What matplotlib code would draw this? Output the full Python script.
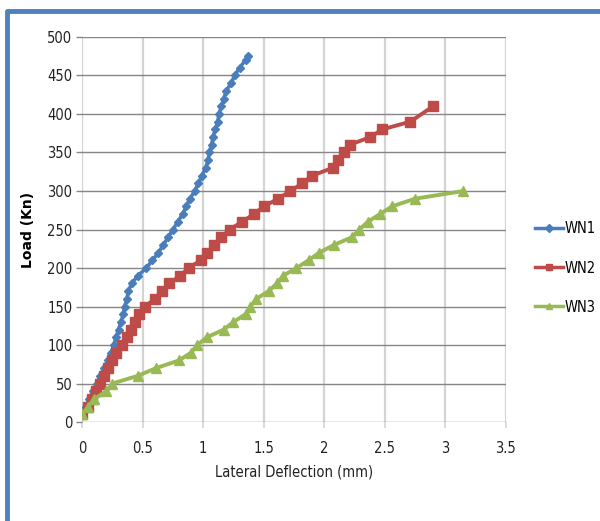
import matplotlib.pyplot as plt
from matplotlib.lines import Line2D
from matplotlib.ticker import FuncFormatter
import matplotlib.font_manager as fm

# load (kN) vs lateral deflection (mm) for the three walls
wn1_load = [10, 20, 30, 40, 50, 60, 70, 80, 90, 100, 110, 120, 130, 140, 150, 160,
            170, 180, 190, 200, 210, 220, 230, 240, 250, 260, 270, 280, 290, 300,
            310, 320, 330, 340, 350, 360, 370, 380, 390, 400, 410, 420, 430, 440,
            450, 460, 470, 475]
wn1_defl = [0.0, 0.03, 0.06, 0.09, 0.12, 0.15, 0.18, 0.21, 0.24, 0.26, 0.28, 0.30,
            0.32, 0.34, 0.35, 0.37, 0.38, 0.41, 0.46, 0.53, 0.58, 0.63, 0.67, 0.71,
            0.75, 0.79, 0.83, 0.86, 0.89, 0.93, 0.96, 0.99, 1.02, 1.04, 1.05, 1.07,
            1.08, 1.10, 1.12, 1.13, 1.15, 1.17, 1.19, 1.23, 1.26, 1.30, 1.35, 1.37]

wn2_load = [10, 20, 30, 40, 50, 60, 70, 80, 90, 100, 110, 120, 130, 140, 150, 160,
            170, 180, 190, 200, 210, 220, 230, 240, 250, 260, 270, 280, 290, 300,
            310, 320, 330, 340, 350, 360, 370, 380, 390, 410]
wn2_defl = [0.0, 0.05, 0.08, 0.11, 0.15, 0.18, 0.21, 0.25, 0.28, 0.33, 0.37, 0.40,
            0.44, 0.47, 0.52, 0.60, 0.66, 0.72, 0.81, 0.88, 0.98, 1.03, 1.09, 1.15,
            1.22, 1.32, 1.42, 1.50, 1.62, 1.72, 1.82, 1.90, 2.07, 2.11, 2.16, 2.21,
            2.38, 2.48, 2.71, 2.90]

wn3_load = [10, 20, 30, 40, 50, 60, 70, 80, 90, 100, 110, 120, 130, 140, 150, 160,
            170, 180, 190, 200, 210, 220, 230, 240, 250, 260, 270, 280, 290, 300]
wn3_defl = [0.0, 0.05, 0.10, 0.20, 0.25, 0.46, 0.61, 0.80, 0.90, 0.95, 1.03, 1.17,
            1.25, 1.35, 1.39, 1.44, 1.54, 1.61, 1.66, 1.77, 1.87, 1.96, 2.08, 2.23,
            2.29, 2.36, 2.46, 2.56, 2.75, 3.15]

names = ["WN1", "WN2", "WN3"]
colors = ["#4a7ebb", "#be4b48", "#98b954"]

# narrow text for ticks and legend
narrow = fm.FontProperties(family="DejaVu Sans", stretch="condensed", size=10.5)

fig = plt.figure(figsize=(6.0, 5.21), dpi=100)
ax = fig.add_axes([0.137, 0.19, 0.706, 0.739])

ax.plot(wn1_defl, wn1_load, color=colors[0], lw=2.6, marker="D", ms=4, label=names[0])
ax.plot(wn2_defl, wn2_load, color=colors[1], lw=2.8, marker="s", ms=7, label=names[1])
ax.plot(wn3_defl, wn3_load, color=colors[2], lw=2.8, marker="^", ms=7, label=names[2])

ax.set_xlim(0, 3.5)
ax.set_ylim(0, 500)
ax.set_xticks([0, 0.5, 1, 1.5, 2, 2.5, 3, 3.5])
ax.set_yticks(range(0, 501, 50))
ax.xaxis.set_major_formatter(FuncFormatter(lambda v, p: f"{v:g}"))

ax.grid(axis="y", color="#868686", lw=1.0)
ax.grid(axis="x", color="#d4d4d4", lw=1.6)
ax.set_axisbelow(True)
for s in ax.spines.values():
    s.set_visible(False)
ax.tick_params(axis="x", length=4, color="#d4d4d4", width=1.2, pad=10)
ax.tick_params(axis="y", length=4, color="#868686", width=1.0, pad=3)
for lab in ax.get_xticklabels() + ax.get_yticklabels():
    lab.set_fontproperties(narrow)
    lab.set_color("#222222")

ax.set_xlabel("Lateral Deflection (mm)", fontproperties=narrow, color="#222222", labelpad=6)
ax.set_ylabel("Load (Kn)", family="DejaVu Sans", fontweight="bold", fontsize=10)
ax.yaxis.set_label_coords(-0.112, 0.5)

leg = ax.legend(loc="center left", bbox_to_anchor=(1.069, 0.4), frameon=False,
                borderpad=0, borderaxespad=0, labelspacing=1.65,
                handlelength=1.9, handletextpad=0.15, prop=narrow)
for h in leg.legend_handles:
    h.set_markersize(4)
    h.set_linewidth(2.5)

# blue frame on the top and left of the figure
fig.add_artist(Line2D([7 / 600, 7 / 600, 1.0], [0.0, 1 - 11 / 521, 1 - 11 / 521],
                      transform=fig.transFigure, color="#4f81bd", lw=3.5))

fig.savefig("out.png", dpi=100)
